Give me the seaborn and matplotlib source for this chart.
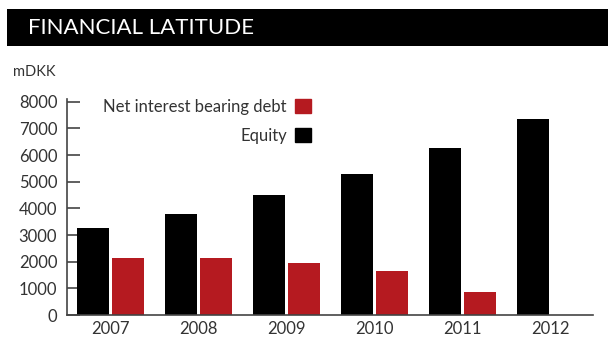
import matplotlib
matplotlib.use("Agg")
import matplotlib.pyplot as plt
import matplotlib.patches as mpatches
import seaborn as sns
import pandas as pd
import numpy as np

years = ["2007", "2008", "2009", "2010", "2011", "2012"]
equity = [3250, 3800, 4500, 5300, 6250, 7350]
debt = [2150, 2150, 1950, 1650, 875, np.nan]
series_names = ["Equity", "Net interest bearing debt"]
colors = {"Equity": "#000000", "Net interest bearing debt": "#B51A20"}
yticks = [0, 1000, 2000, 3000, 4000, 5000, 6000, 7000, 8000]

df = pd.DataFrame({
    "year": years * 2,
    "value": equity + debt,
    "series": [series_names[0]] * len(years) + [series_names[1]] * len(years),
})

sns.set_theme(style="white")
FONT = ["Lato", "DejaVu Sans"]
plt.rcParams["font.family"] = FONT
TXT = "#333333"

fig = plt.figure(figsize=(6.08, 3.41), dpi=100)
ax = fig.add_axes([67 / 608, 1 - 315 / 341, (593 - 67) / 608, (315 - 99) / 341])

sns.barplot(data=df, x="year", y="value", hue="series", hue_order=series_names,
            palette=colors, order=years, width=0.8, gap=0.09, saturation=1,
            errorbar=None, ax=ax, legend=False, edgecolor="none", linewidth=0)

ax.set_xlim(-0.494, 5.483)
ax.set_ylim(0, 8100)
ax.set_yticks(yticks)
ax.set_yticklabels([str(v) for v in yticks])
ax.set_xlabel("")
ax.set_ylabel("")

for side in ["top", "right"]:
    ax.spines[side].set_visible(False)
for side in ["left", "bottom"]:
    ax.spines[side].set_color("#444444")
    ax.spines[side].set_linewidth(1.2)

ax.tick_params(axis="y", direction="in", length=9, width=1.2, color="#444444",
               pad=7, labelsize=12, labelcolor=TXT, left=True)
ax.tick_params(axis="x", length=0, pad=4, labelsize=12, labelcolor=TXT)

# legend
handles = [mpatches.Patch(color=colors["Net interest bearing debt"], label="Net interest bearing debt"),
           mpatches.Patch(color=colors["Equity"], label="Equity")]
leg = fig.legend(handles=handles, loc="upper right", bbox_to_anchor=(311 / 608, 1 - 99 / 341),
                 bbox_transform=fig.transFigure, frameon=False, markerfirst=False,
                 handlelength=0.95, handleheight=0.95, handletextpad=0.5,
                 labelspacing=0.75, borderpad=0, borderaxespad=0,
                 prop={"family": FONT, "size": 12})
for t in leg.get_texts():
    t.set_color(TXT)

# title bar
fig.patches.append(mpatches.Rectangle((7 / 608, 1 - 46 / 341), 1 - 7 / 608, 37 / 341,
                                      transform=fig.transFigure, facecolor="black",
                                      edgecolor="none", zorder=0))
fig.text(28 / 608, 1 - 28 / 341, "FINANCIAL LATITUDE", color="white", fontsize=16,
         va="center", ha="left", family=FONT)
fig.text(13 / 608, 1 - 72 / 341, "mDKK", color=TXT, fontsize=10.5,
         va="center", ha="left", family=FONT)

fig.savefig("out.png", dpi=100)
